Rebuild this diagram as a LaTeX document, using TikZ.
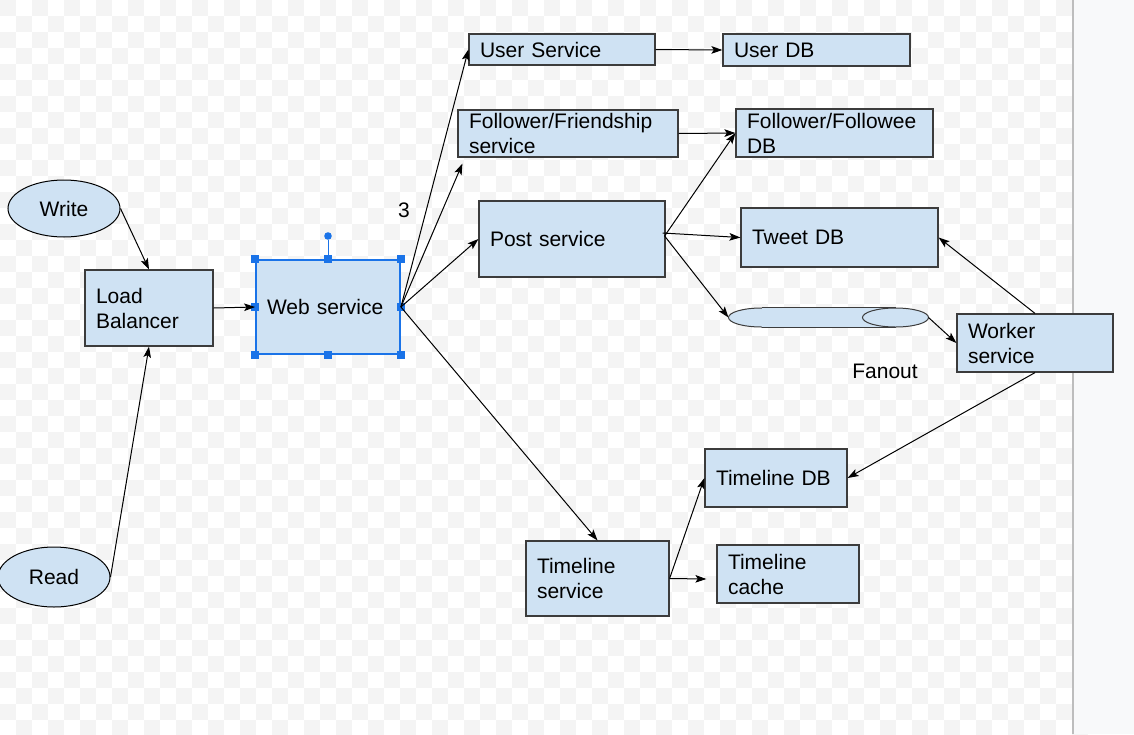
\documentclass[tikz,border=0pt]{standalone}
\usepackage{fontspec}
\setmainfont{Liberation Sans}
\usetikzlibrary{shapes.geometric,arrows.meta,positioning,calc}

\definecolor{boxblue}{HTML}{CFE2F3}
\definecolor{boxline}{HTML}{3C3C3C}
\definecolor{selblue}{HTML}{1A73E8}
\definecolor{checker}{HTML}{F4F4F4}
\definecolor{panel}{HTML}{F8F9FA}
\definecolor{panelline}{HTML}{BDBDBD}

\tikzset{
  svc/.style={draw=boxline, fill=boxblue, line width=0.6pt, inner xsep=5.5pt, inner ysep=0pt, align=left},
  endpt/.style={ellipse, draw=black, fill=boxblue, line width=0.5pt, inner sep=0pt},
  handle/.style={fill=selblue, minimum size=4.2pt, inner sep=0pt},
}

\begin{document}
\begin{tikzpicture}[x=0.5pt, y=-0.5pt, line width=0.5pt,
    font=\fontsize{10.5pt}{12.5pt}\selectfont,
    >={Stealth[length=5.5pt,width=3.8pt,inset=1.2pt]}]

\useasboundingbox (0,0) rectangle (1134,734);
% background
\foreach \i in {0,...,67} {
  \pgfmathtruncatemacro{\o}{mod(\i,2)}
  \foreach \j in {0,2,...,44} {
    \fill[checker] ({16*\i},{16*(\j+\o)}) rectangle ++(16,16);
  }
}
\fill[panel] (1073,0) rectangle (1134,734);
\draw[panelline, line width=0.8pt] (1073,0) -- (1073,734);

% clients
\node[endpt, minimum width=56pt, minimum height=28.5pt] (write) at (64,208.5) {Write};
\node[endpt, minimum width=56pt, minimum height=30pt] (read) at (54,577) {Read};

% services and stores
\node[svc, text width=53pt, minimum height=38pt] (lb) at (149,308) {Load\\Balancer};
\node[svc, draw=selblue, line width=0.9pt, text width=61pt, minimum height=47pt] (web) at (328,307) {Web service};
\node[svc, text width=82pt, minimum height=15.5pt] (usersvc) at (562,49.5) {User Service};
\node[svc, text width=82.5pt, minimum height=16pt] (userdb) at (816.5,50) {User DB};
\node[svc, text width=99pt, minimum height=23.5pt] (follow) at (568,133.5) {Follower/Friendship\\service};
\node[svc, text width=87.5pt, minimum height=24pt] (followdb) at (834.5,133) {Follower/Followee\\DB};
\node[svc, text width=82pt, minimum height=38pt] (post) at (572,239) {Post service};
\node[svc, text width=87.5pt, minimum height=29.5pt] (tweetdb) at (839.5,237.5) {Tweet DB};
\node[svc, text width=67pt, minimum height=29pt] (worker) at (1035,343) {Worker\\service};
\node[svc, text width=60pt, minimum height=29pt] (tldb) at (776,478) {Timeline DB};
\node[svc, text width=60.5pt, minimum height=37.5pt] (tlsvc) at (597.5,578.5) {Timeline\\service};
\node[svc, text width=60pt, minimum height=29pt] (tlcache) at (788,574) {Timeline\\cache};

% queue
\node[minimum width=99.5pt, minimum height=9.5pt, inner sep=0pt] (queue) at (828.5,317.5) {};
\filldraw[draw=boxline, fill=boxblue] ($(queue.west)+(33,0)$) ellipse [x radius=33, y radius=9.5];
\fill[boxblue] ($(queue.north west)+(33,0)$) rectangle ($(queue.south east)+(-33,0)$);
\draw[boxline] ($(queue.north west)+(33,0)$) -- ($(queue.north east)+(-33,0)$);
\draw[boxline] ($(queue.south west)+(33,0)$) -- ($(queue.south east)+(-33,0)$);
\filldraw[draw=boxline, fill=boxblue] ($(queue.east)+(-33,0)$) ellipse [x radius=33, y radius=9.5];

% labels
\node (three) at (404,210) {3};
\node (fanout) at (885,371) {Fanout};

% selection handles
\node[circle, fill=selblue, minimum size=3.8pt, inner sep=0pt] (rot) at (328,236) {};
\draw[selblue] (rot) -- (web.north);
\foreach \a [count=\k] in {north west,north,north east,east,south east,south,south west,west}
  \node[handle] (hd\k) at (web.\a) {};

% connectors
\coordinate (followtip) at ($(follow.south west)+(5,6)$);
\coordinate (postout) at ($(post.east)+(-1,-3)$);
\coordinate (posttick) at ($(post.east)+(-3,-6)$);
\coordinate (cachetip) at ($(tlcache.west)+(-10,5)$);

\draw[->] (write.east) -- (lb.north);
\draw[->] (read.east) -- (lb.south);
\draw[->] (lb.east) -- (web.west);
\draw[->] (web.east) -- (usersvc.west);
\draw[->] (web.east) -- (followtip);
\draw[->] (web.east) -- (post.west);
\draw[->] (web.east) -- (tlsvc.north);
\draw[->] (usersvc.east) -- (userdb.west);
\draw[->] (follow.east) -- (followdb.west);
\draw[->] (posttick) -- (tweetdb.west);
\draw[->] (postout) -- (followdb.west);
\draw[->] (postout) -- (queue.west);
\draw[->] (queue.east) -- (worker.west);
\draw[->] (worker.north) -- (tweetdb.east);
\draw[->] (worker.south) -- (tldb.east);
\draw[->] (tlsvc.east) -- (tldb.west);
\draw[->] (tlsvc.east) -- (cachetip);
\end{tikzpicture}
\end{document}
